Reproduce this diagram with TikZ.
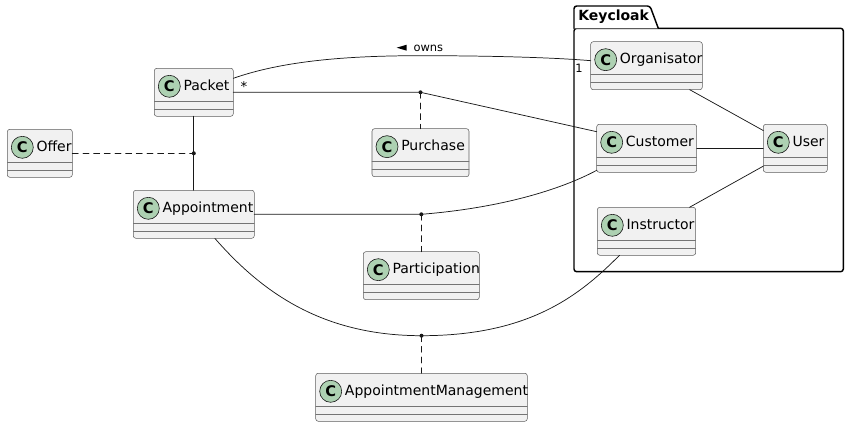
\documentclass[tikz,border=0pt]{standalone}
\usepackage{fontspec}
\setmainfont{DejaVu Sans}
\definecolor{boxfill}{HTML}{F1F1F1}
\definecolor{boxline}{HTML}{181818}
\definecolor{iconfill}{HTML}{ADD1B2}
\tikzset{
  umlbox/.style={draw=boxline!70,fill=boxfill,line width=0.4pt,rounded corners=1.9pt,
    minimum height=36pt,inner sep=0pt,outer sep=0pt,anchor=north west},
  cicon/.style={circle,draw=boxline,fill=iconfill,line width=0.45pt,minimum size=16.5pt,
    inner sep=0pt,font=\fontsize{11}{12}\selectfont\bfseries},
  clabel/.style={anchor=base west,inner sep=0pt,font=\fontsize{10.5}{12}\selectfont},
  compline/.style={draw=boxline!60,line width=0.4pt},
  assoc/.style={line width=0.55pt,draw=boxline},
  dashline/.style={line width=0.55pt,draw=boxline,dash pattern=on 4.5pt off 3.5pt},
  rolelabel/.style={inner sep=0pt,font=\fontsize{8.6}{10}\selectfont}
}
\newcommand{\umlclass}[5]{%
  \node[umlbox,minimum width=#4*0.75pt] (#1) at (#2,#3) {};
  \node[cicon] (#1icon) at ([shift={(15,18)}]#1.north west) {C};
  \node[clabel] (#1name) at ([shift={(29,22)}]#1.north west) {#5};
  \draw[compline] ([shift={(0,32.5)}]#1.north west) -- ([shift={(0,32.5)}]#1.north east);
  \draw[compline] ([shift={(0,40.5)}]#1.north west) -- ([shift={(0,40.5)}]#1.north east);
}
\begin{document}
\begin{tikzpicture}[x=0.75pt,y=-0.75pt,line cap=round,line join=round]
  \useasboundingbox (0,0) rectangle (849,427);
  \draw[line width=1.1pt,fill=white,rounded corners=2pt] (574,28.3) -- (843.3,28.3) -- (843.3,271.7) -- (574,271.7) -- cycle;
  \draw[line width=1.1pt,fill=white] (574,28.3) [rounded corners=2pt] -- (574,6) -- (650,6) [sharp corners] -- (658.3,28.3);
  \node[anchor=base west,inner sep=0pt,font=\fontsize{10.5}{12}\selectfont\bfseries] (keycloak) at (578,20.7) {Keycloak};
  \foreach \nm/\xx/\yy/\ww/\txt in {packet/154.3/68.3/79/Packet,offer/7.3/129.3/65/Offer,
      appointment/133.3/190.3/121/Appointment,purchase/372/128.7/97/Purchase,
      participation/363.3/251.7/116/Participation,apptmgmt/315.7/373.3/211.6/AppointmentManagement,
      organisator/590.7/41.7/111.6/Organisator,customer/596.7/124.3/100/Customer,
      user/763.3/124.3/64/User,instructor/597.3/207.3/98.4/Instructor} {
    \umlclass{\nm}{\xx}{\yy}{\ww}{\txt}
  }
  \coordinate (jOffer) at (193.8,153.3);
  \coordinate (jPurchase) at (420.5,92.3);
  \coordinate (jParticipation) at (421.3,214.3);
  \coordinate (jMgmt) at (421.5,335.7);
  \draw[assoc] (packet) -- (appointment);
  \draw[dashline] (offer.east) -- (jOffer);
  \draw[assoc] ([shift={(0,-14)}]packet.east) .. controls (280,62) and (340,55.7) .. (420,55.7)
    .. controls (500,55.7) and (560,58) .. ([shift={(0,-5)}]organisator.west);
  \draw[assoc] (packet.east) -- (jPurchase) -- ([shift={(0,-16.6)}]customer.west);
  \draw[dashline] (jPurchase) -- (purchase.north);
  \draw[assoc] (appointment.east) -- (jParticipation)
    .. controls (500,208) and (560,190) .. ([shift={(0,22)}]customer.west);
  \draw[dashline] (jParticipation) -- (participation.north);
  \draw[assoc] ([shift={(21,0)}]appointment.south) .. controls (260,290) and (320,335.7) .. (jMgmt)
    .. controls (530,335.7) and (580,295) .. ([shift={(-27,0)}]instructor.south);
  \draw[dashline] (jMgmt) -- (apptmgmt.north);
  \foreach \j in {jOffer,jPurchase,jParticipation,jMgmt} {
    \fill[boxline] (\j) circle (1.5pt);
  }
  \draw[assoc] (organisator) -- (user);
  \draw[assoc] (customer) -- (user);
  \draw[assoc] (instructor) -- (user);
  \fill[black] (396.7,47.7) -- (406.7,44.7) -- (406.7,50.7) -- cycle;
  \node[rolelabel,anchor=base west] (owns) at (413.3,51.3) {owns};
  \node[rolelabel,anchor=base west] (one) at (575,72.3) {1};
  \node[rolelabel,font=\fontsize{10}{10}\selectfont] (many) at (244,86.5) {*};
\end{tikzpicture}
\end{document}
